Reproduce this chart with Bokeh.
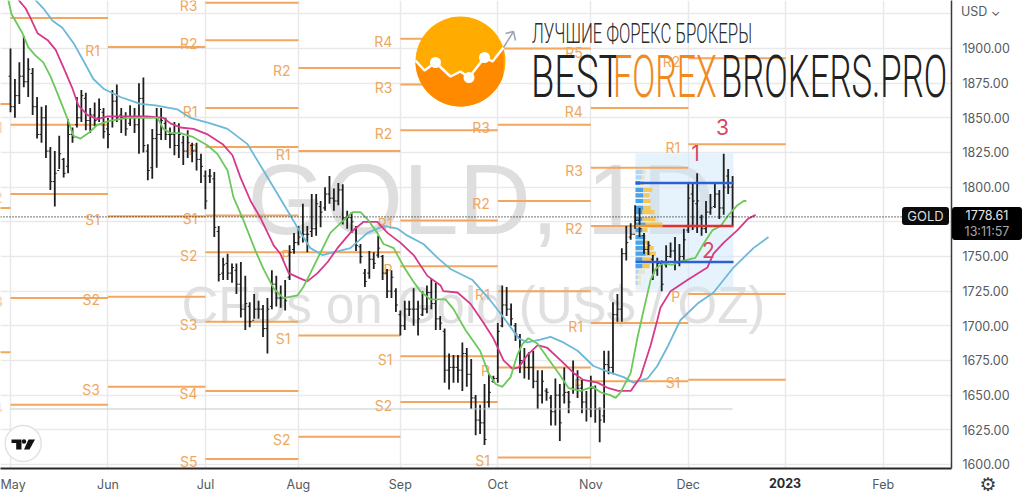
import numpy as np
from bokeh.core.properties import value
from bokeh.embed import file_html
from bokeh.models import Div, FixedTicker, NumeralTickFormatter, Range1d
from bokeh.plotting import figure
from bokeh.resources import INLINE

# ---------- data ----------
bar_high = [1900,1878,1890,1909,1893,1886,1865,1858,1859,1829,1826,1837,1821,1849,1843,1865,1870,1868,1857,1861,
            1864,1857,1850,1870,1874,1857,1854,1859,1857,1875,1879,1831,1842,1857,1857,1850,1843,1847,1846,1837,
            1841,1832,1832,1824,1812,1813,1811,1772,1749,1752,1745,1745,1746,1736,1717,1723,1718,1715,1720,1740,
            1736,1729,1733,1758,1767,1772,1788,1772,1795,1795,1790,1800,1808,1799,1803,1802,1783,1782,1772,1759,
            1741,1754,1753,1765,1751,1741,1740,1727,1711,1718,1718,1727,1718,1725,1729,1734,1731,1707,1698,1680,
            1679,1679,1688,1684,1676,1650,1643,1658,1665,1664,1702,1729,1728,1716,1702,1694,1684,1681,1682,1668,
            1668,1655,1650,1662,1658,1670,1653,1675,1668,1661,1653,1664,1657,1641,1682,1682,1717,1723,1756,1772,
            1774,1787,1785,1767,1761,1751,1749,1747,1758,1760,1764,1759,1770,1803,1803,1810,1780,1790,1795,1803,
            1798,1824,1813,1808]
bar_low = [1854,1850,1860,1872,1865,1852,1835,1832,1821,1798,1786,1813,1807,1810,1832,1843,1847,1841,1839,1844,
           1847,1835,1828,1843,1847,1839,1837,1844,1839,1824,1825,1805,1806,1814,1834,1834,1828,1823,1821,1816,
           1821,1818,1812,1803,1784,1803,1764,1732,1733,1733,1731,1723,1706,1697,1699,1705,1705,1692,1680,1712,
           1714,1713,1711,1733,1752,1758,1760,1753,1764,1765,1771,1783,1788,1783,1787,1773,1770,1767,1754,1745,
           1728,1734,1741,1749,1733,1720,1720,1710,1693,1697,1707,1700,1693,1707,1709,1712,1697,1697,1659,1654,
           1659,1659,1653,1656,1640,1621,1622,1614,1641,1659,1659,1699,1707,1700,1689,1666,1662,1661,1655,1640,
           1644,1646,1628,1628,1617,1644,1637,1651,1648,1637,1631,1634,1630,1616,1630,1665,1665,1703,1703,1747,
           1762,1770,1764,1752,1751,1733,1736,1725,1742,1749,1740,1743,1747,1767,1769,1767,1765,1767,1780,1785,
           1777,1780,1795,1772]
bar_open = [1880,1858,1866,1880,1876,1882,1858,1838,1850,1826,1804,1812,1820,1815,1838,1845,1850,1864,1848,1852,
            1850,1854,1842,1848,1862,1852,1850,1846,1850,1845,1864,1826,1814,1835,1838,1846,1838,1838,1830,1832,
            1826,1830,1826,1820,1808,1808,1806,1768,1738,1745,1738,1740,1730,1712,1714,1704,1712,1712,1698,1714,
            1730,1720,1720,1735,1755,1760,1766,1766,1768,1770,1786,1785,1795,1792,1790,1798,1778,1778,1770,1757,
            1738,1738,1748,1751,1750,1738,1725,1725,1708,1700,1712,1712,1712,1708,1712,1724,1716,1705,1696,1668,
            1670,1670,1668,1680,1665,1648,1632,1630,1645,1660,1662,1700,1715,1712,1700,1692,1675,1670,1670,1660,
            1650,1653,1648,1638,1650,1650,1652,1655,1665,1655,1645,1640,1655,1640,1635,1672,1670,1708,1712,1752,
            1764,1766,1776,1765,1755,1748,1740,1745,1744,1750,1754,1745,1750,1769,1795,1788,1778,1770,1782,1786,
            1795,1785,1808,1800]
bar_close = [1858,1866,1880,1876,1885,1858,1838,1850,1826,1804,1810,1824,1810,1838,1836,1850,1866,1848,1852,1848,
             1856,1840,1838,1862,1850,1850,1842,1850,1845,1864,1830,1812,1835,1838,1848,1838,1838,1830,1838,1826,
             1832,1826,1820,1815,1790,1808,1771,1737,1744,1738,1742,1730,1712,1716,1703,1712,1712,1698,1712,1730,
             1720,1720,1718,1753,1760,1764,1766,1766,1770,1788,1782,1795,1792,1790,1798,1778,1778,1775,1758,1750,
             1732,1748,1745,1756,1738,1725,1735,1715,1700,1712,1712,1712,1705,1712,1724,1716,1705,1702,1668,1670,
             1670,1668,1680,1665,1648,1632,1630,1618,1652,1662,1696,1715,1712,1705,1694,1675,1670,1670,1660,1650,
             1660,1652,1638,1650,1630,1652,1645,1665,1655,1645,1640,1655,1640,1632,1672,1670,1708,1712,1752,1760,
             1766,1776,1770,1755,1758,1738,1745,1730,1750,1754,1745,1750,1762,1792,1790,1790,1770,1782,1785,1795,
             1785,1800,1800,1778.61]

green_x = [-0.5,0.2,2.7,4,5.6,7.4,9,10.8,12.9,14.2,15.8,17.6,19.6,22.6,26.4,30,33.2,34.5,36.1,38.4,41.3,44.5,46.7,49,50.3,
           52.6,55.3,57.1,59.4,61.6,64.8,66.1,67.7,70,72.2,74.5,77.2,79,80.8,82.8,84.2,86.5,88.7,90.7,92.5,94.8,98.2,100,
           102.7,106,107.9,109.5,111,112.9,114.4,115.6,116.9,119,121.2,123.7,126,128.7,131.4,133.2,135.4,136.6,137.7,140,
           141.5,142.9,144.5,145.6,147.2,149.4,151.9,154.6,156.4,158.5,160.3,162.1,164.1,165.5,166.1]
green_y = [1935,1925,1911,1901,1895,1890,1880,1866,1849,1837,1835,1839,1845,1848,1850,1850,1850,1842,1839,1839,1836,1830,1824,1812,1793,
           1776,1754,1741,1727,1720,1722,1728,1738,1753,1767,1774,1782,1782,1776,1767,1759,1756,1743,1733,1725,1719,1719,1712,
           1697,1682,1666,1658,1656,1663,1679,1687,1691,1687,1677,1666,1655,1653,1656,1652,1650,1648,1652,1666,
           1691,1711,1733,1741,1745,1744,1747,1749,1759,1769,1772,1780,1787,1790,1790]
magenta_x = [1.8,3.4,4.5,6.1,8.4,10.2,12,14,15.3,17.4,19.6,21.9,26.4,30.9,34.5,36.1,38.4,41.3,44.5,47.9,50.1,51.9,54.2,56.4,59.4,60.9,
             62.8,65.5,67,69.3,71.6,73.8,76.7,79.7,82.8,85.1,88,91,94.1,97.1,97.7,100.9,103.8,106.8,109,111.3,113.3,114.7,116.7,119,
             121.2,124.2,127.1,129.3,132.5,135,137.2,140,142.2,144.5,146,146.7,149,152.8,157.3,158.7,161,164.1,166.4,168.2]
magenta_y = [1935,1929,1922,1911,1906,1899,1886,1871,1859,1852,1849,1851,1851,1851,1850,1846,1843,1842,1838,1831,1823,1807,1790,1778,1758,1752,
             1738,1734,1732,1738,1746,1756,1767,1775,1775,1767,1760,1751,1736,1729,1725,1724,1716,1702,1691,1675,1669,1670,1679,1686,
             1684,1675,1666,1661,1659,1655,1653,1653,1663,1686,1704,1713,1725,1733,1742,1752,1760,1769,1777,1780]
blue_x = [5.6,7.4,9.5,11.7,14.2,16.5,18.7,21,24.8,29.3,32.7,37.7,40.6,45.1,49,53.5,57.1,61.6,65.5,67.7,70.4,72.9,76.7,80.6,84.2,87.4,
          89.6,93.2,96.4,99.3,104.3,107.9,111.3,114.7,116.7,119.6,121.9,124.8,128,131.6,134.8,138.4,140.6,143.8,146,148.5,151.2,155.1,
          158.7,163.2,167.7,171.1]
blue_y = [1935,1929,1920,1915,1904,1891,1878,1871,1865,1860,1859,1856,1850,1846,1842,1831,1812,1788,1767,1756,1751,1753,1756,1767,1772,1770,
          1765,1759,1749,1741,1733,1720,1706,1691,1688,1690,1692,1688,1682,1671,1667,1663,1659,1662,1671,1686,1704,1716,
          1724,1742,1756,1764]

pivot_from = [-3,-3,-3, 0,0,0,0,0, 22,22,22,22, 44,44,44,44,44,44,44,44,44, 65,65,65,65,65,
              88,88,88,88,88,88,88, 110,110,110,110,110,110, 131,131,131,131,131, 153,153,153,153]
pivot_to   = [0,0,0, 22,22,22,22,22, 44,44,44,44, 65,65,65,65,65,65,65,65,65, 88,88,88,88,88,
              110,110,110,110,110,110,110, 131,131,131,131,131,131, 153,153,153,153,153, 175,175,175,175]
pivot_val  = [1860,1785,1681, 1922,1845,1795,1720,1643, 1901,1779,1721,1656,
              1933,1906,1857,1829,1779.5,1753,1703,1653,1604, 1886,1826,1753,1693,1620,
              1907,1874,1841,1776,1743,1678,1645, 1900,1845,1790,1725,1670,1605,
              1857,1814,1772,1702,1660, 1893,1831,1723,1661]
pivot_txt  = ["","","", "","R1","S2","S3","S4", "R1","S1","S2","S3",
              "R3","R2","R1","P","S1","S2","S3","S4","S5", "R2","R1","P","S1","S2",
              "R4","R3","R2","R1","P","S1","S2", "","R3","R2","R1","P","S1",
              "R4","R3","R2","R1","P", "R2","R1","P","S1"]

vp_price  = [1811,1807,1803,1798,1794,1790,1785,1782,1777,1773,1769,1764,1760,1756,1752,1748,1743,1739,1735,1731]
vp_blue   = [1.6,1.4,1.1,1.8,1.8,1.8,1.8,1.6,1.6,2.3,1.6,1.8,2.0,1.8,2.3,1.6,1.6,0.7,0.5,0.5]
vp_yellow = [0.7,0.7,0.7,2.0,1.4,1.6,1.6,2.7,2.9,3.8,1.1,0.5,1.1,2.3,2.3,2.3,1.6,1.4,0.7,0.7]
vp_alpha  = [0.35,0.35,1,1,1,1,1,1,1,1,1,1,1,1,1,1,1,0.35,0.35,0.35]

month_ticks = [0,22,44,65,88,110,131,153,175,197]
month_names = ["May","Jun","Jul","Aug","Sep","Oct","Nov","Dec","","Feb"]
price_ticks = list(range(1600,1950,25))
last_price = 1778.61
alert_price = 1640
vah, val, poc = 1803, 1746, 1772

# ---------- scale helpers for the decorations ----------
def X(px): return (np.asarray(px, dtype=float) - 10) / 4.43
def Y(py): return 1934.6 - 0.7212 * np.asarray(py, dtype=float)

W, H = 1023, 494
p = figure(width=W, height=H, output_backend="svg", toolbar_location=None,
           x_range=Range1d(float(X(0)), float(X(951))), y_range=Range1d(float(Y(468)), float(Y(0))),
           y_axis_location="right", min_border_left=0, min_border_right=72, min_border_top=0, min_border_bottom=26,
           background_fill_color="white", border_fill_color=None, outline_line_color=None)

FONT = "Inter"
p.xaxis.ticker = FixedTicker(ticks=month_ticks)
p.xaxis.major_label_overrides = dict(zip(month_ticks, month_names))
p.yaxis.ticker = FixedTicker(ticks=price_ticks)
p.yaxis.formatter = NumeralTickFormatter(format="0.00")
p.yaxis.major_label_overrides = {1925: "", 1775: ""}
for ax in (p.xaxis[0], p.yaxis[0]):
    ax.major_tick_line_color = None
    ax.minor_tick_line_color = None
    ax.major_tick_out = 0
    ax.major_tick_in = 0
    ax.minor_tick_out = 0
    ax.minor_tick_in = 0
    ax.major_label_text_color = "#555a60"
    ax.major_label_text_font = FONT
    ax.major_label_text_font_size = "12.5px"
p.xaxis.major_label_standoff = 8
p.yaxis.major_label_standoff = 11
p.xaxis.axis_line_color = "#2a2a2a"
p.xaxis.axis_line_width = 2
p.yaxis.axis_line_color = "#3a3a3a"
p.yaxis.axis_line_width = 1.5
p.xgrid.ticker = FixedTicker(ticks=month_ticks)
p.ygrid.ticker = FixedTicker(ticks=price_ticks)
p.xgrid.grid_line_color = "#e9e9ec"
p.ygrid.grid_line_color = "#e9e9ec"
p.xgrid.grid_line_width = 1.5
p.ygrid.grid_line_width = 1.5

# watermark
p.text([float(X(247))], [float(Y(198))], text=["GOLD, 1D"], text_font=value("Liberation Sans"),
       text_font_size="100px", text_color="#dedede", text_baseline="middle", text_align="left")
p.text([float(X(181))], [float(Y(305))], text=["CFDs on Gold (US$ / OZ)"], text_font=value("Liberation Sans"),
       text_font_size="51px", text_color="#e0e0e0", text_baseline="middle", text_align="left")

# volume profile block
vp_start = float(X(635))
p.quad(left=[vp_start], right=[float(X(733))], top=[float(Y(153))], bottom=[float(Y(290))],
       fill_color="#cfe7f9", fill_alpha=0.5, line_color=None)

# pivots
p.segment(pivot_from, pivot_val, pivot_to, pivot_val, line_color="#f2a65e", line_width=2)
lab = [i for i, t in enumerate(pivot_txt) if t]
p.text([pivot_from[i] - 1.8 for i in lab], [pivot_val[i] for i in lab], text=[pivot_txt[i] for i in lab],
       text_font=value(FONT), text_font_size="14px", text_color="#eea85f",
       text_align="right", text_baseline="middle", y_offset=3)
p.text([131 - 1.8], [1900], text=["R5"], text_font=value(FONT), text_font_size="14px", text_color="#eea85f",
       text_align="right", text_baseline="middle", y_offset=4)

vp_left = np.full(len(vp_price), vp_start)
vp_b = vp_left + np.array(vp_blue)
vp_y = vp_b + np.array(vp_yellow)
p.hbar(y=vp_price, left=vp_left, right=vp_b, height=3, fill_color="#4aa3e8", fill_alpha=vp_alpha, line_color=None)
p.hbar(y=vp_price, left=vp_b, right=vp_y, height=3, fill_color="#f2c75c", fill_alpha=vp_alpha, line_color=None)

# OHLC bars
idx = np.arange(len(bar_high))
p.segment(idx, bar_low, idx, bar_high, line_color="#1f1f1f", line_width=1.8)
p.segment(idx - 0.45, bar_open, idx, bar_open, line_color="#1f1f1f", line_width=1)
p.segment(idx, bar_close, idx + 0.45, bar_close, line_color="#1f1f1f", line_width=1)

# moving averages
p.line(blue_x, blue_y, line_color="#6cb8d8", line_width=1.8)
p.line(magenta_x, magenta_y, line_color="#d6398a", line_width=1.8)
p.line(green_x, green_y, line_color="#6cc85a", line_width=1.8)

# value area lines
p.segment([vp_start, vp_start], [vah, val], [float(X(733))]*2, [vah, val], line_color="#2f5fd8", line_width=2.5)
p.segment([vp_start], [poc], [float(X(662))], [poc], line_color="#f0952e", line_width=2.5)
p.segment([float(X(662))], [poc], [float(X(733))], [poc], line_color="#e22f2f", line_width=2.5)

# horizontal price lines
p.segment([float(X(0))], [last_price], [float(X(902))], [last_price], line_color="#222222", line_width=1.2, line_dash="1 2")
p.segment([0], [alert_price], [163], [alert_price], line_color="#f0b4c0", line_width=1, line_dash="2 2")
p.segment([0], [alert_price], [163], [alert_price], line_color="#9ad6d0", line_width=1, line_dash="2 2", line_dash_offset=2)

# red numbers
p.text([float(X(695)), float(X(708)), float(X(722))], [float(Y(152)), float(Y(249)), float(Y(126))], text=["1","2","3"],
       text_font=value(FONT), text_font_size="21px", text_color="#d9475f", text_align="center", text_baseline="middle")

# logo
cx, cy, r = 460, 61, 45
zig_x = [415,424,435,450,460,468.5,484,492,503]
zig_y = [60,70,62,76,71,77,57,61,47]
p.scatter([float(X(cx))], [float(Y(cy))], size=2*r, fill_color="#ffab00", line_color=None)
theta = np.linspace(np.radians(-18), np.radians(-180), 60)
arc_x = cx + r*np.cos(theta)
arc_y = cy - r*np.sin(theta)
p.patch(X(zig_x + list(arc_x)), Y(zig_y + list(arc_y)), fill_color="#ff8a00", line_color=None)
p.line(X(zig_x), Y(zig_y), line_color="white", line_width=2.5)
p.scatter(X([435,468.5,484]), Y([62,77,57]), size=11, fill_color="white", line_color=None)
p.line(X([503,513]), Y([47,31]), line_color="#9aa5b1", line_width=1.5)
p.line(X([505,513,515]), Y([33,31,40]), line_color="#9aa5b1", line_width=1.5)

# TradingView badge
p.scatter([float(X(22.7))], [float(Y(443))], size=36, fill_color="white", line_color="#e2e2e2", line_width=1.5)
p.patch(X([11,21,21,20,15.7,15.7,11]), Y([439,439,449,449,449,442.5,442.5]), fill_color="#111111", line_color=None)
p.scatter([float(X(23.5))], [float(Y(441))], size=4.5, fill_color="#111111", line_color=None)
p.patch(X([28,34.5,29,23.5]), Y([439,439,449,449]), fill_color="#111111", line_color=None)

# texts outside the frame, and the stretched logo lettering, as page elements
def dom_tag(text, px, py, w, h, color, bg="transparent", size="12.5px", font=FONT, weight="normal",
            align="center", extra=None):
    st = {"position": "absolute", "left": f"{px}px", "top": f"{py}px", "width": f"{w}px", "height": f"{h}px",
          "line-height": f"{h}px", "text-align": align, "color": color, "background": bg, "font-size": size,
          "font-family": font, "font-weight": weight, "z-index": "10", "white-space": "nowrap"}
    st.update(extra or {})
    return Div(text=text, width=w, height=h, styles=st)

def logo_word(text, px, cy_px, w, size, sx, sy, color):
    return dom_tag(text, px, cy_px - 25, w, 50, color, size=size, font="Roboto", align="left", weight="300",
                   extra={"transform": f"scale({sx},{sy})", "transform-origin": "left center"})

p.elements = [
    logo_word("ЛУЧШИЕ ФОРЕКС БРОКЕРЫ", 532, 33, 260, "17px", 0.985, 1.65, "#2a2a2a"),
    logo_word("BEST", 531, 76, 100, "34px", 1.12, 1.74, "#222222"),
    logo_word("FOREX", 613, 76, 120, "34px", 1.0, 1.74, "#f08a1d"),
    logo_word("BROKERS.PRO", 721, 76, 250, "34px", 1.02, 1.74, "#222222"),
    dom_tag("GOLD", 902, 207, 47, 18, "#dddddd", bg="#0b0b0b", size="13px", extra={"border-radius": "3px"}),
    dom_tag("<div style='line-height:17px;color:#e6e6e6'>1778.61</div><div style='line-height:16px;color:#a8a8a8'>13:11:57</div>",
            952, 207, 70, 33, "#e6e6e6", bg="#000000", size="12.5px", extra={"border-radius": "3px", "line-height": "normal"}),
    dom_tag("USD \u2304", 961, 4, 42, 16, "#555a60", align="left"),
    dom_tag("2023", 765, 476, 40, 16, "#26292e", weight="bold"),
    dom_tag("\u2699", 976, 473, 24, 22, "#3c3c3c", size="19px", font="DejaVu Sans"),
]

assert len(bar_high) == len(bar_low) == len(bar_open) == len(bar_close)
assert len(green_x) == len(green_y) and len(magenta_x) == len(magenta_y) and len(blue_x) == len(blue_y)
assert len(pivot_from) == len(pivot_to) == len(pivot_val) == len(pivot_txt)

open("out.html", "w").write(file_html(p, INLINE))
